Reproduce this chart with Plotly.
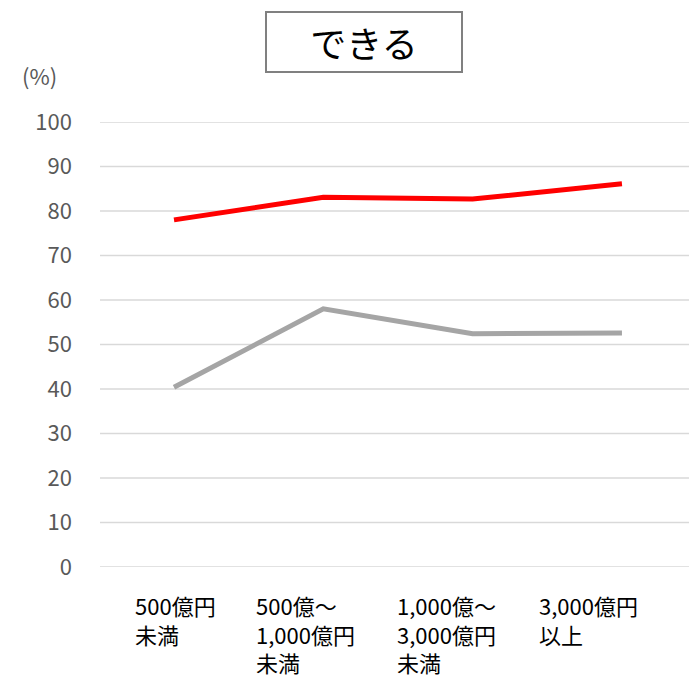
import plotly.graph_objects as go

# 売上規模別の回答率（%）
categories = ["500億円<br>未満", "500億〜<br>1,000億円<br>未満", "1,000億〜<br>3,000億円<br>未満", "3,000億円<br>以上"]
red_values = [78.0, 83.1, 82.7, 86.1]
gray_values = [40.4, 58.0, 52.4, 52.6]
y_ticks = [0, 10, 20, 30, 40, 50, 60, 70, 80, 90, 100]

FONT = "Noto Sans CJK JP"
x_pos = list(range(len(categories)))

fig = go.Figure()

# horizontal gridlines drawn as shapes so the 0 and 100 lines at the edges show too
for v in y_ticks:
    fig.add_shape(type="line", xref="paper", yref="y", x0=0, x1=1, y0=v, y1=v,
                  line=dict(color="#D9D9D9", width=1.5), layer="below")

fig.add_trace(go.Scatter(x=x_pos, y=gray_values, mode="lines",
                         line=dict(color="#A5A5A5", width=5), showlegend=False))
fig.add_trace(go.Scatter(x=x_pos, y=red_values, mode="lines",
                         line=dict(color="#FF0000", width=5), showlegend=False))

# category labels, left aligned under each point
label_offsets = [-41, -69, -78, -85]
for i, (lab, off) in enumerate(zip(categories, label_offsets)):
    fig.add_annotation(x=i, y=0, xref="x", yref="y", text=lab, showarrow=False,
                       xanchor="left", yanchor="top", align="left",
                       xshift=off, yshift=-20,
                       font=dict(family=FONT, size=22, color="#000000"))

fig.add_annotation(x=0, y=1, xref="paper", yref="paper", text="(%)", showarrow=False,
                   xanchor="right", yanchor="bottom", xshift=-41, yshift=29,
                   font=dict(family=FONT, size=22, color="#595959"))

fig.add_annotation(x=0.4482, y=1.18, xref="paper", yref="paper", text="できる", showarrow=False,
                   xanchor="center", yanchor="middle",
                   font=dict(family=FONT, size=36, color="#000000"),
                   bordercolor="#808080", borderwidth=2, width=192, height=56,
                   bgcolor="#FFFFFF")

fig.update_layout(
    width=689, height=677,
    margin=dict(l=100, r=0, t=122, b=110),
    paper_bgcolor="#FFFFFF", plot_bgcolor="#FFFFFF",
    font=dict(family=FONT),
    xaxis=dict(range=[-0.4955, 3.449], showticklabels=False, showgrid=False,
               zeroline=False, showline=False),
    yaxis=dict(range=[0, 100], tickvals=y_ticks, showgrid=False,
               zeroline=False, showline=False, ticklabelstandoff=27,
               tickfont=dict(family=FONT, size=22, color="#595959")),
)
fig.write_html("out.html")
